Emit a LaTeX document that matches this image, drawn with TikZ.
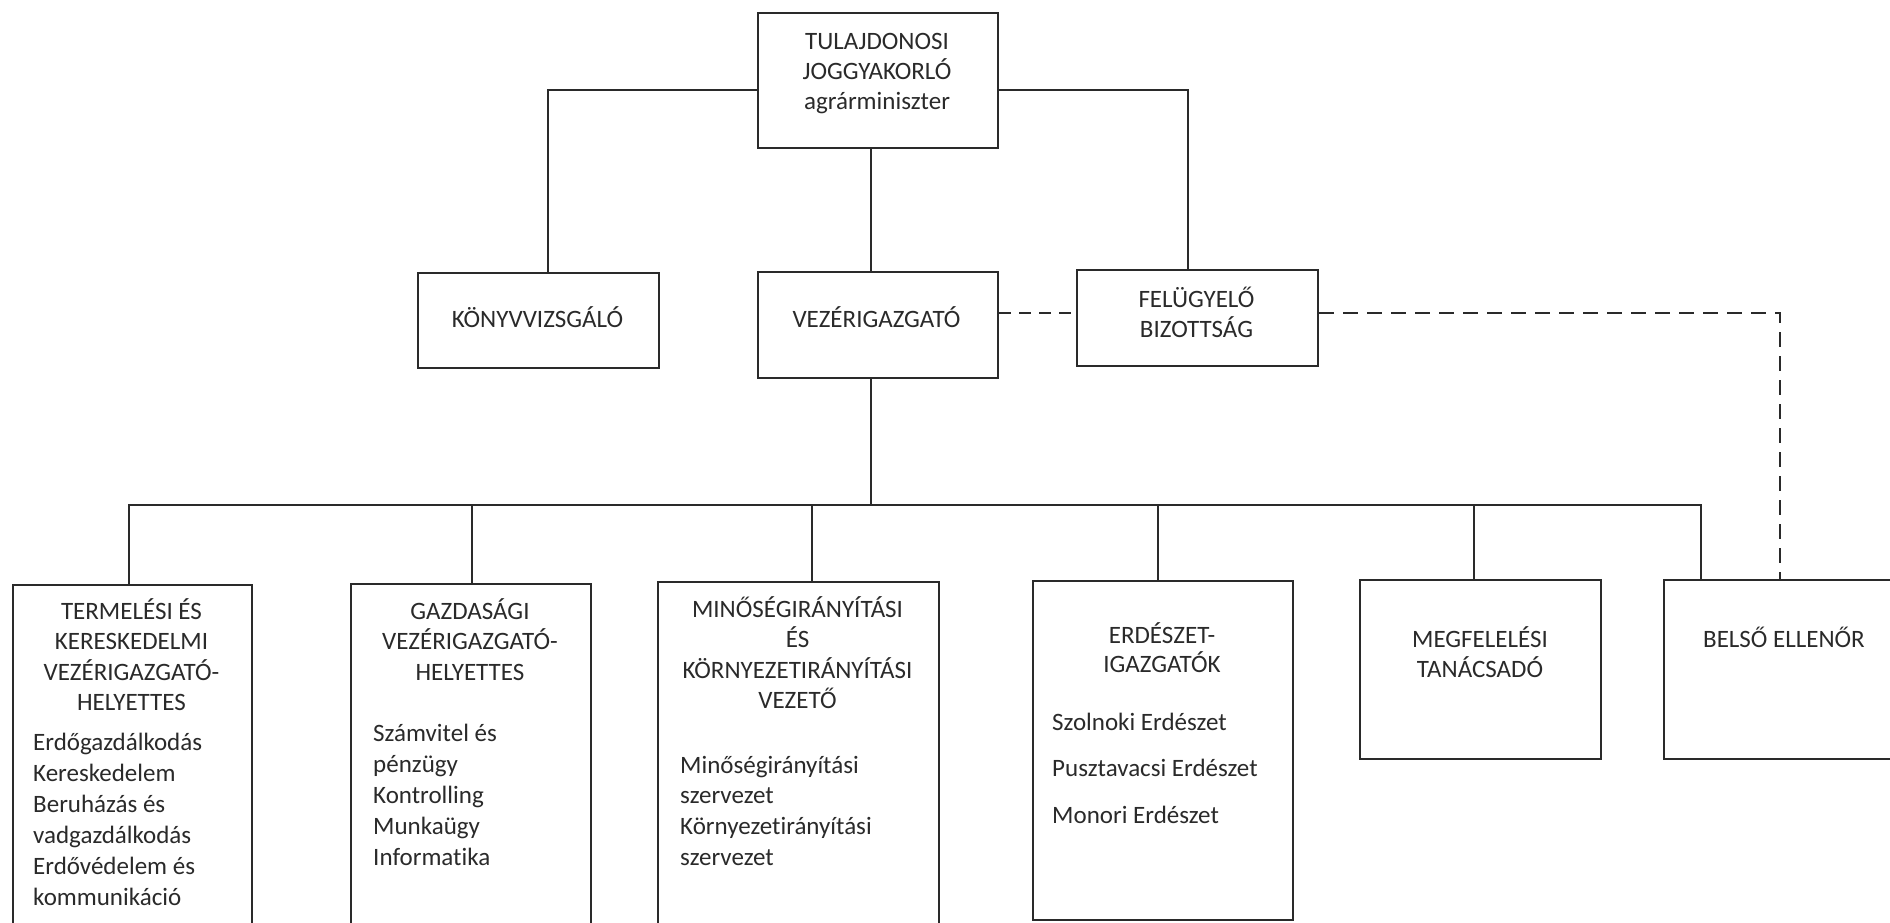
\documentclass[tikz,border=0pt]{standalone}
\usepackage{fontspec}
\setmainfont{Carlito}[Ligatures=NoCommon]
\usetikzlibrary{calc}
\definecolor{ink}{HTML}{2A2A2A}
\newcommand{\mylines}[2]{\begin{tabular}[t]{@{}#1@{}}#2\end{tabular}}
\begin{document}
\begin{tikzpicture}[x=1pt,y=-1pt,
  box/.style={draw=ink, line width=2.2pt, rectangle, inner sep=0pt, anchor=north west},
  link/.style={draw=ink, line width=2.2pt},
  dlink/.style={link, dash pattern=on 12pt off 8pt},
  dlinklong/.style={link, dash pattern=on 15pt off 9pt},
  txt/.style={inner sep=0pt, text=ink, font=\fontsize{25}{30.5}\selectfont},
]
\fill[white] (0,0) rectangle (1890,923);
\useasboundingbox (0,0) rectangle (1890,923);
\clip (0,0) rectangle (1890,923);

% boxes
\node[box, minimum width=240pt, minimum height=135pt] (top) at (757,12) {};
\node[box, minimum width=241pt, minimum height=95pt] (konyv) at (417,272) {};
\node[box, minimum width=240pt, minimum height=106pt] (vez) at (757,271) {};
\node[box, minimum width=241pt, minimum height=96pt] (fel) at (1076,269) {};
\node[box, minimum width=239pt, minimum height=340pt] (b1) at (12,584) {};
\node[box, minimum width=240pt, minimum height=341pt] (b2) at (350,583) {};
\node[box, minimum width=281pt, minimum height=343pt] (b3) at (657,581) {};
\node[box, minimum width=260pt, minimum height=339pt] (b4) at (1032,580) {};
\node[box, minimum width=241pt, minimum height=179pt] (b5) at (1359,579) {};
\node[box, minimum width=250pt, minimum height=179pt] (b6) at (1663,579) {};

% texts
\node[txt, anchor=base, font=\fontsize{25}{29.5}\selectfont] (ttop) at (877,50) {\mylines{c}{TULAJDONOSI\\JOGGYAKORLÓ\\agrárminiszter}};
\node[txt, anchor=base] (tkonyv) at (537.5,327) {KÖNYVVIZSGÁLÓ};
\node[txt, anchor=base] (tvez) at (876.5,327) {VEZÉRIGAZGATÓ};
\node[txt, anchor=base] (tfel) at (1196.5,307) {\mylines{c}{FELÜGYELŐ\\BIZOTTSÁG}};

\node[txt, anchor=base] (h1) at (131.5,619) {\mylines{c}{TERMELÉSI ÉS\\KERESKEDELMI\\VEZÉRIGAZGATÓ-\\HELYETTES}};
\node[txt, anchor=base west, font=\fontsize{25}{31}\selectfont] (l1) at (33,750) {\mylines{l}{Erdőgazdálkodás\\Kereskedelem\\Beruházás és\\vadgazdálkodás\\Erdővédelem és\\kommunikáció}};

\node[txt, anchor=base] (h2) at (470,619) {\mylines{c}{GAZDASÁGI\\VEZÉRIGAZGATÓ-\\HELYETTES}};
\node[txt, anchor=base west, font=\fontsize{25}{31.2}\selectfont] (l2) at (373,741) {\mylines{l}{Számvitel és\\pénzügy\\Kontrolling\\Munkaügy\\Informatika}};

\node[txt, anchor=base] (h3) at (797.5,617) {\mylines{c}{MINŐSÉGIRÁNYÍTÁSI\\ÉS\\KÖRNYEZETIRÁNYÍTÁSI\\VEZETŐ}};
\node[txt, anchor=base west, font=\fontsize{25}{30.7}\selectfont] (l3) at (680,773) {\mylines{l}{Minőségirányítási\\szervezet\\Környezetirányítási\\szervezet}};

\node[txt, anchor=base, font=\fontsize{25}{29}\selectfont] (h4) at (1162,643) {\mylines{c}{ERDÉSZET-\\IGAZGATÓK}};
\node[txt, anchor=base west, font=\fontsize{25}{46.5}\selectfont] (l4) at (1052,730) {\mylines{l}{Szolnoki Erdészet\\Pusztavacsi Erdészet\\Monori Erdészet}};

\node[txt, anchor=base] (h5) at (1480,647) {\mylines{c}{MEGFELELÉSI\\TANÁCSADÓ}};
\node[txt, anchor=base] (h6) at (1784,647) {BELSŐ ELLENŐR};

% connectors
\coordinate (busy) at (0,505);
\draw[link] ($(top.west)+(0,9.5)$) -| ($(konyv.north)+(9.5,0)$);
\draw[link] ($(top.east)+(0,9.5)$) -| ($(fel.north)+(-9.5,0)$);
\draw[link] ($(top.south)+(-7,0)$) -- ($(top.south |- vez.north)+(-7,0)$);
\draw[link] ($(vez.south)+(-7,0)$) -- ($(vez.south |- busy)+(-7,0)$);
\draw[link] ($(b1.north)+(-3.5,0)$) |- ($(busy -| b6.north west)+(38,0)$) -- ($(b6.north west)+(38,0)$);
\draw[link] ($(b2.north)+(1,0)$) -- ($(b2.north |- busy)+(1,0)$);
\draw[link] ($(b3.north)+(13.5,0)$) -- ($(b3.north |- busy)+(13.5,0)$);
\draw[link] ($(b4.north)+(-5,0)$) -- ($(b4.north |- busy)+(-5,0)$);
\draw[link] ($(b5.north)+(-6.5,0)$) -- ($(b5.north |- busy)+(-6.5,0)$);

\draw[dlink] ($(vez.east)+(0,-12)$) -- ($(vez.east -| fel.west)+(0,-12)$);
\draw[dlinklong] ($(fel.east)+(0,-5)$) -| ($(b6.north)+(-9,0)$);
\end{tikzpicture}
\end{document}
